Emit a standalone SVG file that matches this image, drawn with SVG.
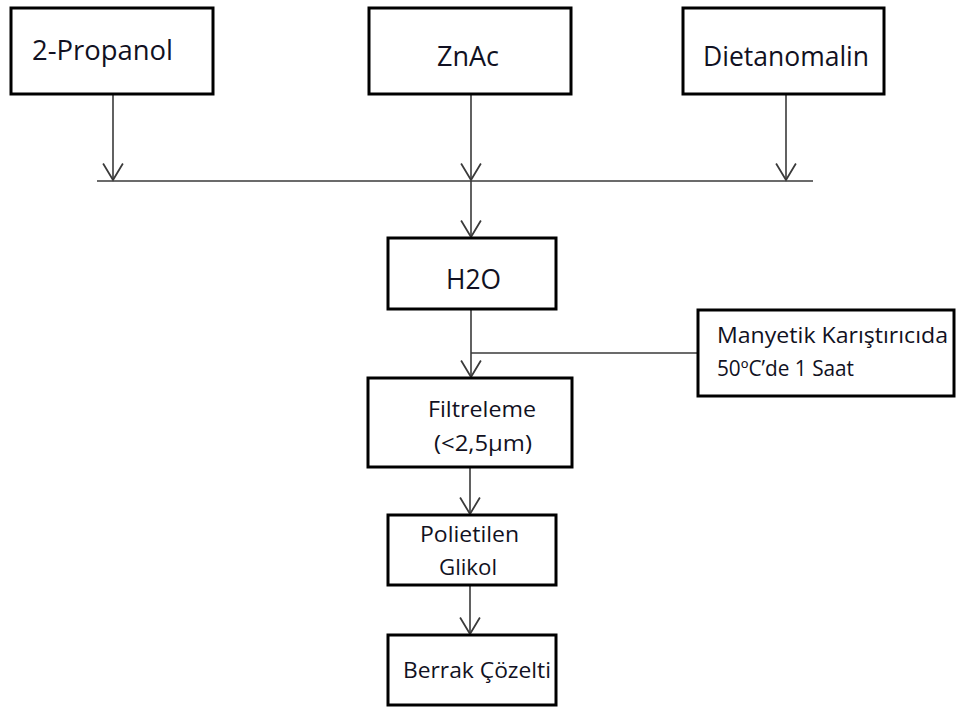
<svg xmlns="http://www.w3.org/2000/svg" width="958" height="707" viewBox="0 0 958 707">
  <style>
    .box { fill: #ffffff; stroke: #000000; stroke-width: 3; }
    .lbl { font-family: "Open Sans", "Liberation Sans", sans-serif; fill: #111122; }
    .big { font-size: 27px; }
    .mid { font-size: 21px; }
    .wire { fill: none; stroke: #3a3a3a; stroke-width: 1.6; }
  </style>
  <defs>
    <!-- open V arrowhead, drawn along +x so orient="auto" points it down the line -->
    <marker id="vee" markerUnits="userSpaceOnUse" markerWidth="20" markerHeight="22" refX="16" refY="10" orient="auto" viewBox="0 0 18 20">
      <path d="M1,1 L16,10 L1,19" fill="none" stroke="#3a3a3a" stroke-width="1.6"/>
    </marker>
  </defs>

  <g id="connectors">
    <!-- inputs into the collecting bar -->
    <line class="wire" x1="113" y1="95" x2="113" y2="180" marker-end="url(#vee)"/>
    <line class="wire" x1="471" y1="95" x2="471" y2="180" marker-end="url(#vee)"/>
    <line class="wire" x1="786" y1="95" x2="786" y2="180" marker-end="url(#vee)"/>
    <line class="wire" x1="97" y1="181" x2="813" y2="181"/>
    <!-- bar to H2O -->
    <line class="wire" x1="471" y1="181" x2="471" y2="237" marker-end="url(#vee)"/>
    <!-- H2O to filtering, with side branch -->
    <line class="wire" x1="471" y1="309" x2="471" y2="377" marker-end="url(#vee)"/>
    <line class="wire" x1="471" y1="353" x2="698" y2="353"/>
    <!-- filtering to PEG -->
    <line class="wire" x1="470" y1="467" x2="470" y2="514" marker-end="url(#vee)"/>
    <!-- PEG to final solution -->
    <line class="wire" x1="470" y1="585" x2="470" y2="634" marker-end="url(#vee)"/>
  </g>

  <g id="propanol">
    <rect class="box" x="11" y="8" width="202" height="86"/>
    <text class="lbl big" x="32" y="60" textLength="141" lengthAdjust="spacingAndGlyphs">2-Propanol</text>
  </g>

  <g id="znac">
    <rect class="box" x="369" y="8" width="202" height="86"/>
    <text class="lbl big" x="437" y="66" textLength="62" lengthAdjust="spacingAndGlyphs">ZnAc</text>
  </g>

  <g id="dietanomalin">
    <rect class="box" x="683" y="8" width="201" height="86"/>
    <text class="lbl big" x="703" y="66" textLength="166" lengthAdjust="spacingAndGlyphs">Dietanomalin</text>
  </g>

  <g id="h2o">
    <rect class="box" x="388" y="238" width="168" height="71"/>
    <text class="lbl big" x="446" y="289" textLength="55" lengthAdjust="spacingAndGlyphs">H2O</text>
  </g>

  <g id="manyetik">
    <rect class="box" x="698" y="310" width="256" height="86"/>
    <text class="lbl mid" x="717" y="343" textLength="231" lengthAdjust="spacingAndGlyphs">Manyetik Karıştırıcıda</text>
    <text class="lbl mid" x="717" y="376" textLength="137" lengthAdjust="spacingAndGlyphs">50ºC’de 1 Saat</text>
  </g>

  <g id="filtreleme">
    <rect class="box" x="368" y="378" width="204" height="89"/>
    <text class="lbl mid" x="428" y="417" textLength="108" lengthAdjust="spacingAndGlyphs">Filtreleme</text>
    <text class="lbl mid" x="434" y="451" textLength="98" lengthAdjust="spacingAndGlyphs">(&lt;2,5µm)</text>
  </g>

  <g id="polietilen">
    <rect class="box" x="388" y="515" width="168" height="70"/>
    <text class="lbl mid" x="420" y="542" textLength="99" lengthAdjust="spacingAndGlyphs">Polietilen</text>
    <text class="lbl mid" x="439" y="575" textLength="58" lengthAdjust="spacingAndGlyphs">Glikol</text>
  </g>

  <g id="berrak">
    <rect class="box" x="388" y="635" width="168" height="70"/>
    <text class="lbl mid" x="403" y="678" textLength="148" lengthAdjust="spacingAndGlyphs">Berrak Çözelti</text>
  </g>
</svg>
